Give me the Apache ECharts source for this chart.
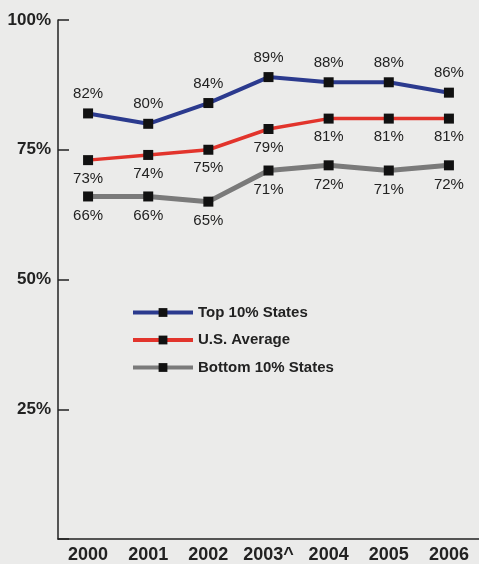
<!DOCTYPE html>
<html>
<head>
<meta charset="utf-8">
<script src="https://cdn.jsdelivr.net/npm/echarts@6/dist/echarts.min.js"></script>
<style>
  html, body { margin: 0; padding: 0; background: #ebebea; }
  #chart { width: 479px; height: 564px; }
</style>
</head>
<body>
<div id="chart"></div>
<script>
// Years on the horizontal axis
const years = ['2000', '2001', '2002', '2003^', '2004', '2005', '2006'];
// Percentages for each group
const topStates = [82, 80, 84, 89, 88, 88, 86];
const usAverage = [73, 74, 75, 79, 81, 81, 81];
const bottomStates = [66, 66, 65, 71, 72, 71, 72];
// Y axis tick values
const yTicks = [0, 25, 50, 75, 100];

const FONT = 'Liberation Sans';

function lineSeries(name, data, color, width, labelPos, labelDist) {
  return {
    name: name,
    type: 'line',
    data: data,
    symbol: 'rect',
    symbolSize: 10,
    itemStyle: { color: '#111' },
    lineStyle: { color: color, width: width },
    label: {
      show: true,
      position: labelPos,
      distance: labelDist,
      formatter: '{c}%',
      color: '#222',
      fontFamily: FONT,
      fontSize: 15
    },
    emphasis: { disabled: true },
    z: 3
  };
}

const chart = echarts.init(document.getElementById('chart'), null, { renderer: 'canvas' });
chart.setOption({
  animation: false,
  backgroundColor: '#ebebea',
  grid: { left: 58, top: 20, width: 422, bottom: 25, containLabel: false },
  legend: {
    orient: 'vertical',
    left: 131,
    top: 305,
    padding: 0,
    itemWidth: 60,
    itemHeight: 11,
    itemGap: 12.5,
    lineStyle: { width: 4 },
    textStyle: { fontFamily: FONT, fontSize: 15, fontWeight: 'bold', color: '#222' },
    data: ['Top 10% States', 'U.S. Average', 'Bottom 10% States']
  },
  xAxis: {
    type: 'category',
    data: years,
    boundaryGap: true,
    axisLine: { lineStyle: { color: '#222', width: 1.5 } },
    axisTick: { inside: true, length: 13, alignWithLabel: true, interval: 0, lineStyle: { color: '#222', width: 1.5 } },
    axisLabel: { interval: 0, color: '#222', fontFamily: FONT, fontSize: 18, fontWeight: 'bold', margin: 7 }
  },
  yAxis: {
    type: 'value',
    min: 0,
    max: 100,
    interval: 25,
    splitLine: { show: false },
    axisLine: { show: true, lineStyle: { color: '#222', width: 1.5 } },
    axisTick: { show: true, inside: true, length: 11, lineStyle: { color: '#222', width: 1.5 } },
    axisLabel: {
      color: '#222', fontFamily: FONT, fontSize: 17, fontWeight: 'bold', margin: 7,
      formatter: function (v) { return (v === 0 || yTicks.indexOf(v) < 0) ? '' : v + '%'; }
    }
  },
  series: [
    lineSeries('Top 10% States', topStates, '#2b3a8e', 4, 'top', 7),
    lineSeries('U.S. Average', usAverage, '#e2342c', 3.5, 'bottom', 6),
    lineSeries('Bottom 10% States', bottomStates, '#7a7a7a', 5, 'bottom', 7)
  ]
});
</script>
</body>
</html>
